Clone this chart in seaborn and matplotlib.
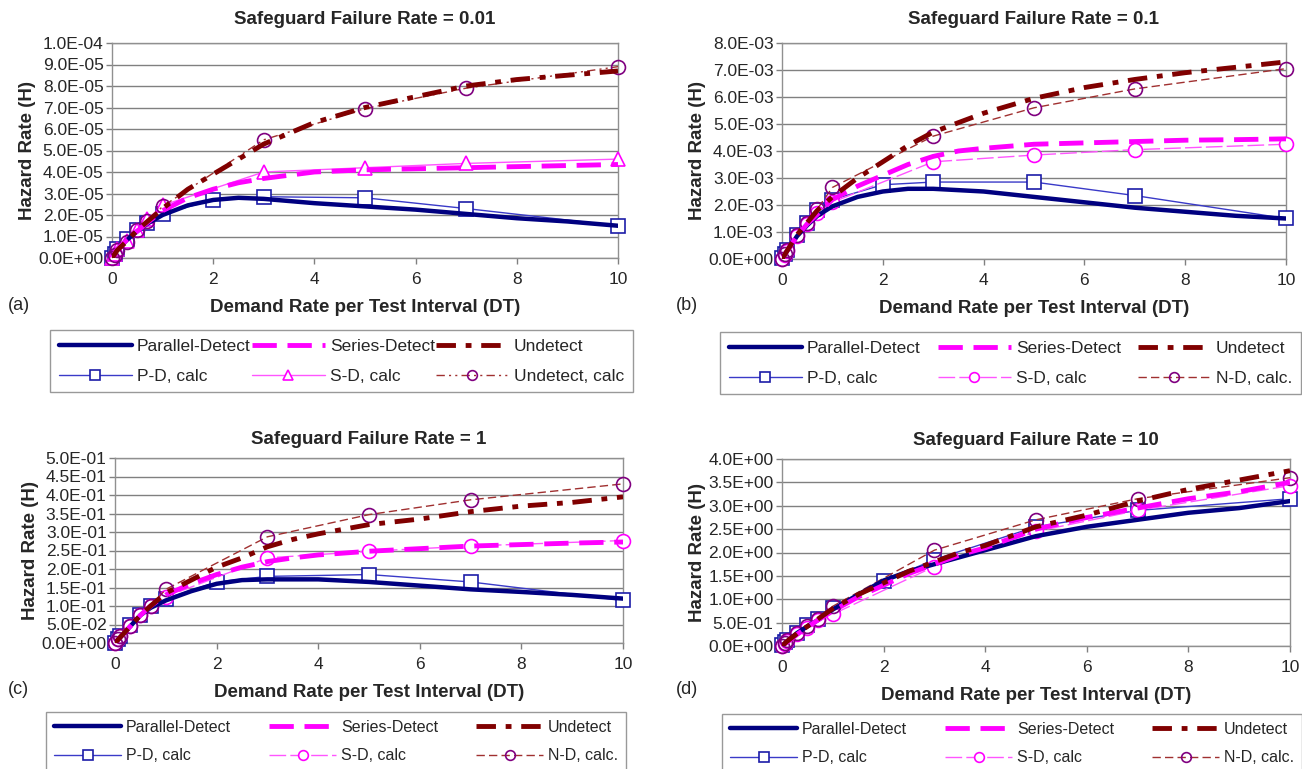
import numpy as np
import pandas as pd
import matplotlib
matplotlib.use("Agg")
import matplotlib.pyplot as plt
import seaborn as sns
from matplotlib.ticker import FuncFormatter, MultipleLocator

# ---------------- data ----------------
X_CURVE = [0, 0.1, 0.3, 0.5, 0.7, 1, 1.5, 2, 2.5, 3, 3.5, 4, 5, 6, 7, 8, 9, 10]
X_CALC_PD = [0, 0.05, 0.1, 0.3, 0.5, 0.7, 1, 2, 3, 5, 7, 10]
X_CALC_SN = [0, 0.05, 0.1, 0.3, 0.5, 0.7, 1, 3, 5, 7, 10]

TITLES = ["Safeguard Failure Rate = 0.01", "Safeguard Failure Rate = 0.1",
          "Safeguard Failure Rate = 1", "Safeguard Failure Rate = 10"]
PANEL_TAGS = ["(a)", "(b)", "(c)", "(d)"]
SCALES = [1e-5, 1e-3, 1e-1, 1.0]
YMAX = [1.0e-4, 8.0e-3, 0.5, 4.0]
YSTEP = [1.0e-5, 1.0e-3, 0.05, 0.5]

# panel (a) values in units of 1e-5
A_PD = [0, 0.4, 0.85, 1.25, 1.6, 2.0, 2.45, 2.7, 2.8, 2.75, 2.65, 2.55, 2.4, 2.25, 2.05, 1.85, 1.7, 1.5]
A_SD = [0, 0.4, 0.85, 1.25, 1.65, 2.2, 2.8, 3.2, 3.5, 3.7, 3.85, 4.0, 4.1, 4.15, 4.2, 4.25, 4.3, 4.35]
A_U = [0, 0.35, 0.8, 1.3, 1.7, 2.3, 3.2, 3.9, 4.6, 5.3, 5.8, 6.3, 7.0, 7.5, 8.0, 8.3, 8.5, 8.7]
A_PDC = [0, 0.2, 0.4, 0.9, 1.3, 1.65, 2.05, 2.7, 2.85, 2.8, 2.3, 1.5]
A_SDC = [0, 0.2, 0.4, 0.8, 1.3, 1.8, 2.45, 4.0, 4.2, 4.4, 4.6]
A_UC = [0, 0.15, 0.35, 0.75, 1.3, 1.7, 2.4, 5.5, 6.95, 7.9, 8.9]

# panel (b) values in units of 1e-3
B_PD = [0, 0.3, 0.85, 1.25, 1.6, 1.95, 2.3, 2.5, 2.6, 2.6, 2.55, 2.5, 2.3, 2.1, 1.9, 1.75, 1.6, 1.5]
B_SD = [0, 0.3, 0.85, 1.3, 1.65, 2.2, 2.7, 3.1, 3.5, 3.8, 4.0, 4.1, 4.25, 4.3, 4.35, 4.4, 4.42, 4.45]
B_U = [0, 0.3, 0.9, 1.35, 1.8, 2.3, 3.0, 3.6, 4.2, 4.7, 5.05, 5.4, 5.95, 6.35, 6.65, 6.9, 7.1, 7.3]
B_PDC = [0.05, 0.2, 0.35, 0.9, 1.35, 1.8, 2.2, 2.75, 2.85, 2.85, 2.35, 1.5]
B_SDC = [0, 0.15, 0.3, 0.85, 1.3, 1.7, 2.1, 3.6, 3.85, 4.05, 4.25]
B_UC = [0, 0.2, 0.35, 0.9, 1.35, 1.85, 2.65, 4.55, 5.6, 6.3, 7.05]

# panel (c) values in units of 1e-1
C_PD = [0, 0.15, 0.45, 0.75, 0.95, 1.15, 1.4, 1.6, 1.7, 1.72, 1.72, 1.72, 1.65, 1.55, 1.45, 1.38, 1.3, 1.2]
C_SD = [0, 0.15, 0.45, 0.75, 1.0, 1.3, 1.6, 1.85, 2.05, 2.2, 2.3, 2.38, 2.48, 2.55, 2.62, 2.66, 2.7, 2.73]
C_U = [0, 0.15, 0.45, 0.75, 1.0, 1.35, 1.7, 2.05, 2.3, 2.6, 2.8, 2.95, 3.2, 3.35, 3.55, 3.7, 3.8, 3.95]
C_PDC = [0, 0.1, 0.2, 0.5, 0.75, 1.0, 1.2, 1.65, 1.8, 1.85, 1.65, 1.15]
C_SDC = [0, 0.1, 0.18, 0.45, 0.75, 1.0, 1.25, 2.3, 2.48, 2.62, 2.77]
C_UC = [0, 0.12, 0.2, 0.47, 0.75, 1.0, 1.45, 2.87, 3.47, 3.87, 4.3]

# panel (d) values in units of 1
D_PD = [0, 0.1, 0.28, 0.42, 0.55, 0.78, 1.1, 1.4, 1.6, 1.75, 1.9, 2.05, 2.35, 2.55, 2.7, 2.85, 2.95, 3.1]
D_SD = [0, 0.08, 0.25, 0.4, 0.55, 0.75, 1.05, 1.3, 1.55, 1.75, 1.95, 2.1, 2.5, 2.75, 2.95, 3.15, 3.3, 3.5]
D_U = [0, 0.1, 0.27, 0.42, 0.57, 0.8, 1.1, 1.35, 1.6, 1.8, 2.0, 2.15, 2.55, 2.8, 3.1, 3.35, 3.55, 3.75]
D_PDC = [0.03, 0.08, 0.12, 0.27, 0.45, 0.58, 0.82, 1.38, 1.85, 2.55, 2.9, 3.15]
D_SDC = [0, 0.05, 0.1, 0.25, 0.38, 0.55, 0.68, 1.7, 2.45, 2.9, 3.43]
D_UC = [0, 0.07, 0.12, 0.27, 0.43, 0.58, 0.85, 2.05, 2.7, 3.15, 3.6]

PANELS = [
    (A_PD, A_SD, A_U, A_PDC, A_SDC, A_UC),
    (B_PD, B_SD, B_U, B_PDC, B_SDC, B_UC),
    (C_PD, C_SD, C_U, C_PDC, C_SDC, C_UC),
    (D_PD, D_SD, D_U, D_PDC, D_SDC, D_UC),
]

LABELS_A = ["Parallel-Detect", "Series-Detect", "Undetect", "P-D, calc", "S-D, calc", "Undetect, calc"]
LABELS_BCD = ["Parallel-Detect", "Series-Detect", "Undetect", "P-D, calc", "S-D, calc", "N-D, calc."]

# ---------------- style ----------------
sns.set_style("white")
plt.rcParams["font.family"] = ["Liberation Sans", "DejaVu Sans"]

NAVY = "#000080"
MAGENTA = "#FF00FF"
MAROON = "#800000"

fig = plt.figure(figsize=(13.02, 7.69), dpi=100)
W, H = 1302.0, 769.0


def ax_rect(l, r, t, b):
    return [l / W, 1 - b / H, (r - l) / W, (b - t) / H]


AX_POS = [ax_rect(112, 618, 43, 258), ax_rect(782, 1286, 43, 259),
          ax_rect(115, 623, 458, 643), ax_rect(782, 1290, 459, 646)]
TAG_POS = [(8, 305), (676, 305), (8, 690), (676, 690)]
LEG_BOX = [(50, 633, 330, 392), (720, 1301, 332, 393),
           (46, 626, 712, 772), (722, 1302, 714, 772)]
LEG_FS = [12.5, 12.5, 11.5, 11.5]
TITLE_PAD = [14, 14, 10, 10]

sci_fmt = FuncFormatter(lambda v, p: f"{v:.1E}")

for i in range(4):
    ax = fig.add_axes(AX_POS[i])
    pd_, sd_, u_, pdc, sdc, uc = PANELS[i]
    s = SCALES[i]
    labels = LABELS_A if i == 0 else LABELS_BCD

    df_curve = pd.DataFrame({"x": X_CURVE, "pd": np.array(pd_) * s,
                             "sd": np.array(sd_) * s, "u": np.array(u_) * s})
    df_pd = pd.DataFrame({"x": X_CALC_PD, "y": np.array(pdc) * s})
    df_sn = pd.DataFrame({"x": X_CALC_SN, "sd": np.array(sdc) * s, "u": np.array(uc) * s})

    # calc thin lines (drawn first)
    sns.lineplot(data=df_pd, x="x", y="y", ax=ax, color="#3a3ac8", lw=1.0,
                 marker="s", markersize=10, markerfacecolor="white",
                 markeredgecolor="#1c1ca8", markeredgewidth=1.2,
                 label=labels[3], clip_on=False, zorder=3)
    sns.lineplot(data=df_sn, x="x", y="sd", ax=ax, color="#FF55FF", lw=1.0,
                 linestyle=(0, (12, 3)) if i > 0 else "-",
                 marker="^" if i == 0 else "o", markersize=10, markerfacecolor="white",
                 markeredgecolor=MAGENTA, markeredgewidth=1.2,
                 label=labels[4], clip_on=False, zorder=3)
    sns.lineplot(data=df_sn, x="x", y="u", ax=ax, color="#a03030", lw=1.0,
                 linestyle=(0, (6, 3, 1.5, 3, 1.5, 3)) if i == 0 else (0, (6, 3)),
                 marker="o", markersize=10, markerfacecolor="none",
                 markeredgecolor="#800080", markeredgewidth=1.2,
                 label=labels[5], clip_on=False, zorder=3)

    # thick model curves
    sns.lineplot(data=df_curve, x="x", y="pd", ax=ax, color=NAVY, lw=3.2,
                 label=labels[0], zorder=4)
    sns.lineplot(data=df_curve, x="x", y="sd", ax=ax, color=MAGENTA, lw=3.5,
                 linestyle=(0, (5, 2.2)), label=labels[1], zorder=4)
    sns.lineplot(data=df_curve, x="x", y="u", ax=ax, color=MAROON, lw=3.5,
                 linestyle=(0, (4, 2, 1.2, 2)), label=labels[2], zorder=4)

    handles, labs = ax.get_legend_handles_labels()
    if ax.get_legend() is not None:
        ax.get_legend().remove()
    hmap = dict(zip(labs, handles))
    order = [labels[0], labels[3], labels[1], labels[4], labels[2], labels[5]]

    ax.set_xlim(0, 10)
    ax.set_ylim(0, YMAX[i])
    ax.xaxis.set_major_locator(MultipleLocator(2))
    ax.yaxis.set_major_locator(MultipleLocator(YSTEP[i]))
    ax.yaxis.set_major_formatter(sci_fmt)
    ax.grid(axis="y", color="#808080", lw=1.0)
    ax.grid(axis="x", visible=False)
    ax.set_axisbelow(True)
    for sp in ax.spines.values():
        sp.set_color("#909090")
        sp.set_linewidth(1.0)
    ax.tick_params(axis="both", which="major", length=4, width=1, color="#808080",
                   direction="out", labelsize=12.5, pad=2, bottom=True, left=True)
    ax.tick_params(axis="x", pad=6)

    ax.set_title(TITLES[i], fontsize=13.5, fontweight="bold", pad=TITLE_PAD[i])
    ax.set_xlabel("Demand Rate per Test Interval (DT)", fontsize=13.5,
                  fontweight="bold", labelpad=9)
    ax.set_ylabel("Hazard Rate (H)", fontsize=13.5, fontweight="bold", labelpad=2)

    tx, ty = TAG_POS[i]
    fig.text(tx / W, 1 - ty / H, PANEL_TAGS[i], fontsize=13, va="center", ha="left")

    l, r, t, b = LEG_BOX[i]
    leg = fig.legend([hmap[o] for o in order], order, loc="upper left",
                     bbox_to_anchor=(l / W, 1 - t / H, (r - l) / W, 0.0001),
                     mode="expand", ncol=3, fontsize=LEG_FS[i], frameon=True,
                     fancybox=False, edgecolor="#808080", handlelength=4.2,
                     handletextpad=0.3, labelspacing=0.85, borderaxespad=0,
                     borderpad=0.5, columnspacing=0.8)
    leg.get_frame().set_linewidth(1.0)
    for lh in leg.legend_handles:
        try:
            lh.set_markersize(7)
        except Exception:
            pass

fig.savefig("out.png", dpi=100)
